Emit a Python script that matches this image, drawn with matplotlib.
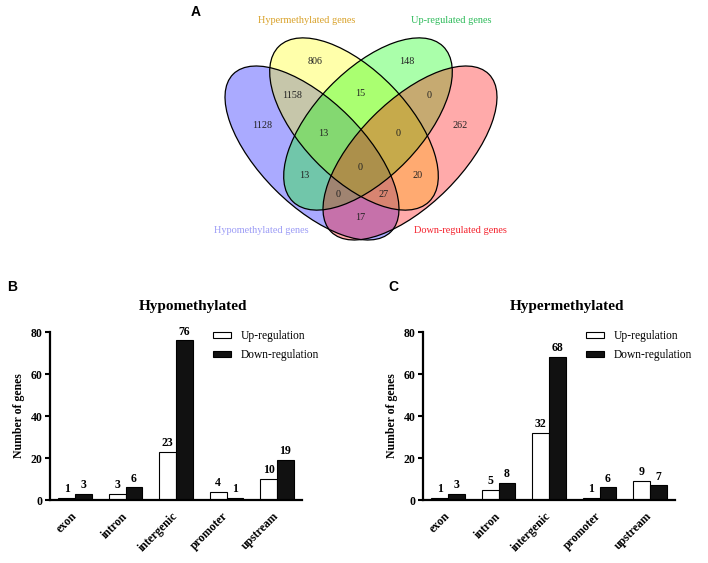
import numpy as np
import matplotlib
matplotlib.use("Agg")
import matplotlib.pyplot as plt
from matplotlib.patches import Ellipse

plt.rcParams["font.family"] = ["Liberation Serif", "DejaVu Serif"]

W, H = 708, 563

# ---- Venn data (panel A) ----
venn_sets = ["Hypomethylated genes", "Hypermethylated genes", "Up-regulated genes", "Down-regulated genes"]
venn_colors = ["blue", "yellow", "lime", "red"]
venn_label_colors = ["#9c9cf6", "#d9a22b", "#2dbb5a", "#f5222d"]
# region counts, same order as the label positions below
venn_counts = [806, 148, 1158, 15, 0, 1128, 13, 0, 262, 0, 13, 20, 0, 27, 17]

# ---- bar data (panels B, C) ----
categories = ["exon", "intron", "intergenic", "promoter", "upstream"]
hypo_up = [1, 3, 23, 4, 10]
hypo_down = [3, 6, 76, 1, 19]
hyper_up = [1, 5, 32, 1, 9]
hyper_down = [3, 8, 68, 6, 7]

fig = plt.figure(figsize=(W / 100, H / 100), dpi=100)

# ================= Panel A: 4-set Venn (drawn in pixel units) =================
ax_v = fig.add_axes([0, 0.5, 1, 0.5])
ax_v.set_xlim(0, W)
ax_v.set_ylim(H / 2, H)
ax_v.axis("off")


def py(y):
    # pixel row (from the top) -> data y
    return H - y


# ellipses: centre (px, from top), width, height, angle
ell_geom = [((312.0, 153.0), 223, 104, -45),
            ((354.0, 124.0), 216, 107, -46),
            ((368.0, 124.0), 216, 107, 46),
            ((410.0, 153.0), 223, 104, 45)]
for (c, w, h, a), col in zip(ell_geom, venn_colors):
    ax_v.add_patch(Ellipse((c[0], py(c[1])), w, h, angle=a, facecolor=col, alpha=0.335,
                           edgecolor="none"))
for (c, w, h, a) in ell_geom:
    ax_v.add_patch(Ellipse((c[0], py(c[1])), w, h, angle=a, facecolor="none",
                           edgecolor="black", lw=0.9))

count_pos = [(315, 61.5), (407, 61.5), (292, 95.5), (360, 93), (429, 95.5),
             (262, 126), (323, 133.5), (398, 133.5), (460, 126), (360.5, 167.5),
             (304, 175.5), (418, 175.5), (338, 194.5), (383.5, 194.5), (360.5, 217)]
for n, (x, y) in zip(venn_counts, count_pos):
    ax_v.text(x, py(y), str(n), ha="center", va="center", fontsize=7.3, color="#222222")

cat_pos = [(261.7, 230.5), (307, 20.5), (451, 20.5), (460, 230.5)]
for name, (x, y), col in zip(venn_sets, cat_pos, venn_label_colors):
    ax_v.text(x, py(y), name, ha="center", va="center", fontsize=7.4, color=col)

# panel letters
for letter, x, y in [("A", 196, 12), ("B", 12, 287), ("C", 393, 287)]:
    fig.text(x / W, 1 - y / H, letter, ha="center", va="center", fontsize=10,
             fontweight="bold", family="Liberation Sans")


def bar_panel(ax, up, down, title, title_x):
    """Grouped bar chart in GraphPad style."""
    x = np.arange(len(categories))
    w = 0.333
    b_up = ax.bar(x - w / 2, up, w, color="white", edgecolor="black", lw=0.8, label="Up-regulation")
    b_dn = ax.bar(x + w / 2, down, w, color="#111111", edgecolor="black", lw=0.8, label="Down-regulation")
    for bars in (b_up, b_dn):
        ax.bar_label(bars, padding=2, fontsize=8.5, fontweight="bold")

    ax.set_xlim(-0.5, 4.5)
    ax.set_ylim(0, 80)
    ax.set_yticks([0, 20, 40, 60, 80])
    ax.set_xticks(x)
    ax.set_xticklabels(categories, rotation=45, ha="right", va="center", rotation_mode="anchor",
                       fontsize=8.5, fontweight="bold")
    for lab in ax.get_yticklabels():
        lab.set_fontweight("bold")
        lab.set_fontsize(8.5)
    ax.tick_params(axis="x", length=0, pad=10.5)
    ax.tick_params(axis="y", length=3.8, width=1.5, pad=1.5)
    for s in ("top", "right"):
        ax.spines[s].set_visible(False)
    for s in ("left", "bottom"):
        ax.spines[s].set_linewidth(1.6)
    ax.set_ylabel("Number of genes", fontsize=8.5, fontweight="bold", labelpad=4)
    ax.text(title_x, 1.151, title, transform=ax.transAxes, ha="center", va="center",
            fontsize=11, fontweight="bold")
    ax.legend(loc="upper left", bbox_to_anchor=(0.648, 1.012), frameon=False, fontsize=8.3,
              handlelength=1.55, handleheight=0.45, handletextpad=0.8, labelspacing=0.6,
              borderpad=0, borderaxespad=0)


ax_b = fig.add_axes([0.0703, 0.1119, 0.3566, 0.2984])
bar_panel(ax_b, hypo_up, hypo_down, "Hypomethylated", 0.567)

ax_c = fig.add_axes([0.5973, 0.1119, 0.3566, 0.2984])
bar_panel(ax_c, hyper_up, hyper_down, "Hypermethylated", 0.572)

fig.savefig("out.png", dpi=100)
